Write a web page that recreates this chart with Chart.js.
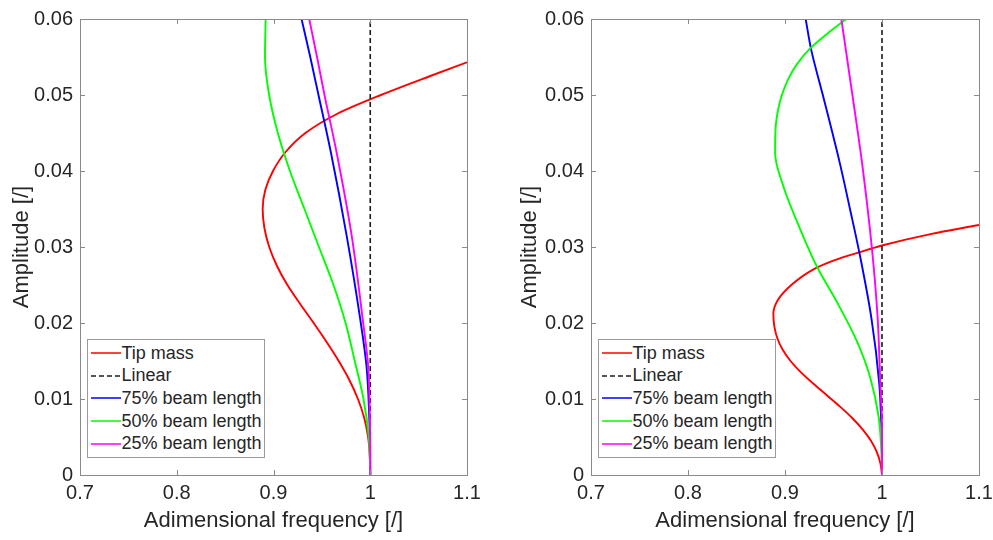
<!DOCTYPE html>
<html>
<head>
<meta charset="utf-8">
<title>Backbone curves</title>
<script src="https://cdn.jsdelivr.net/npm/chart.js@4.4.1/dist/chart.umd.min.js"></script>
<style>
  html, body { margin: 0; padding: 0; background: #fff; }
  body { width: 993px; height: 540px; position: relative; overflow: hidden; }
  .panel { position: absolute; top: 0; height: 540px; }
  #panel-left { left: 0; width: 490px; }
  #panel-right { left: 508px; width: 485px; }
  .legend {
    position: absolute;
    box-sizing: border-box;
    height: 119px;
    background: #fff;
    border: 1px solid #9a9a9a;
    padding: 2px 2px 2px 3px;
    font-family: "Liberation Sans", Arial, sans-serif;
    font-size: 18px;
    color: #262626;
  }
  .legend-row { display: flex; align-items: center; height: 22.6px; white-space: nowrap; }
  .legend-row svg { flex: none; margin-right: 1px; }
</style>
</head>
<body>
<div class="panel" id="panel-left">
  <canvas id="backbone-tip"></canvas>
  <div class="legend" id="backbone-tip-legend"></div>
</div>
<div class="panel" id="panel-right">
  <canvas id="backbone-beam"></canvas>
  <div class="legend" id="backbone-beam-legend"></div>
</div>
<script>
(function () {
  'use strict';

  // Axis ticks
  const freqTicks = [0.7, 0.8, 0.9, 1, 1.1];
  const freqTickLabels = ['0.7', '0.8', '0.9', '1', '1.1'];
  const ampTicks = [0, 0.01, 0.02, 0.03, 0.04, 0.05, 0.06];
  const ampTickLabels = ['0', '0.01', '0.02', '0.03', '0.04', '0.05', '0.06'];

  const seriesLabels = ['Tip mass', 'Linear', '75% beam length', '50% beam length', '25% beam length'];

  // Linear system: constant frequency
  const linearAmp = [0, 0.06];
  const linearFreq = [1, 1];

  // Left plot
  const tipAmpA = [0, 0.0025, 0.005, 0.0075, 0.01, 0.0125, 0.015, 0.0175, 0.02, 0.0225, 0.025, 0.0275, 0.03, 0.0325, 0.035, 0.0375, 0.04, 0.0425, 0.045, 0.0475, 0.05, 0.0525, 0.0543];
  const tipFreqA = [1.0, 0.9995, 0.9978, 0.9938, 0.9873, 0.9784, 0.9674, 0.9549, 0.9415, 0.9276, 0.9144, 0.9036, 0.8956, 0.8906, 0.8888, 0.8915, 0.8995, 0.9125, 0.933, 0.9655, 1.011, 1.062, 1.1];

  const beam75AmpA = [0, 0.004, 0.0076, 0.0141, 0.0207, 0.0315, 0.0424, 0.05, 0.055, 0.06];
  const beam75FreqA = [1.0, 0.9998, 0.999, 0.9963, 0.9894, 0.9756, 0.9594, 0.9465, 0.938, 0.929];

  const beam50AmpA = [0, 0.005, 0.01, 0.015, 0.02, 0.025, 0.03, 0.035, 0.04, 0.045, 0.05, 0.055, 0.06];
  const beam50FreqA = [1.0, 0.9985, 0.993, 0.984, 0.9745, 0.962, 0.947, 0.932, 0.917, 0.9045, 0.8955, 0.8912, 0.8919];

  const beam25AmpA = [0, 0.004, 0.0076, 0.0141, 0.0207, 0.0315, 0.0424, 0.05, 0.055, 0.06];
  const beam25FreqA = [1.0, 1.0, 0.9996, 0.998, 0.992, 0.9808, 0.9653, 0.9527, 0.945, 0.9369];

  // Right plot
  const tipAmpB = [0, 0.0015, 0.003, 0.0045, 0.006, 0.0075, 0.009, 0.0105, 0.012, 0.0135, 0.015, 0.0165, 0.018, 0.0195, 0.0212, 0.023, 0.025, 0.027, 0.0283, 0.0293, 0.0302, 0.0317, 0.0329];
  const tipFreqB = [1.0, 0.9984, 0.9947, 0.9886, 0.980, 0.9693, 0.9568, 0.9431, 0.9293, 0.9165, 0.9057, 0.8975, 0.8921, 0.8891, 0.888, 0.8925, 0.9065, 0.9285, 0.952, 0.9766, 1.0, 1.05, 1.1];

  const beam75AmpB = [0, 0.004, 0.0076, 0.012, 0.0207, 0.0293, 0.035, 0.0411, 0.05, 0.0559, 0.06];
  const beam75FreqB = [1.0, 0.9998, 0.999, 0.9972, 0.989, 0.9766, 0.967, 0.9564, 0.939, 0.9271, 0.9213];

  const beam50AmpB = [0, 0.003, 0.0076, 0.0128, 0.0176, 0.0228, 0.0273, 0.0324, 0.038, 0.0424, 0.046, 0.048, 0.05, 0.052, 0.054, 0.056, 0.058, 0.06];
  const beam50FreqB = [1.0, 0.9994, 0.9966, 0.9879, 0.9741, 0.9534, 0.9334, 0.9155, 0.8983, 0.8898, 0.8905, 0.8928, 0.8968, 0.903, 0.912, 0.925, 0.943, 0.9632];

  const beam25AmpB = [0, 0.004, 0.0076, 0.012, 0.0207, 0.0297, 0.0411, 0.05, 0.06];
  const beam25FreqB = [1.0, 1.0, 0.9998, 0.9983, 0.9955, 0.9897, 0.9794, 0.9695, 0.9581];

  const seriesStyles = [
    { color: '#ff0000', dash: [] },
    { color: '#1c1c1c', dash: [5, 3] },
    { color: '#0000ff', dash: [] },
    { color: '#00ff00', dash: [] },
    { color: '#ff00ff', dash: [] }
  ];

  const textColor = '#262626';
  const boxColor = '#8a8a8a';
  const fontFamily = '"Liberation Sans", Arial, sans-serif';

  Chart.defaults.font.family = fontFamily;

  const toPoints = (freq, amp) => amp.map((a, i) => ({ x: freq[i], y: a }));

  function makeDatasets(curves) {
    return curves.map((points, i) => ({
      label: seriesLabels[i],
      data: points,
      borderColor: seriesStyles[i].color,
      backgroundColor: seriesStyles[i].color,
      borderDash: seriesStyles[i].dash,
      borderWidth: i === 1 ? 1.6 : 1.9,
      pointRadius: 0,
      fill: false,
      // frequency is a smooth function of amplitude, so interpolate along y
      cubicInterpolationMode: 'monotone',
      clip: 0,
      // later series are drawn on top
      order: seriesLabels.length - i
    }));
  }

  // box around the plot area with ticks pointing inwards
  const boxAxes = {
    id: 'boxAxes',
    afterDraw(chart) {
      const { ctx, chartArea: a, scales: { x, y } } = chart;
      const len = 5;
      ctx.save();
      ctx.strokeStyle = boxColor;
      ctx.lineWidth = 1;
      ctx.beginPath();
      freqTicks.forEach((v) => {
        const px = Math.round(x.getPixelForValue(v)) + 0.5;
        ctx.moveTo(px, a.bottom); ctx.lineTo(px, a.bottom - len);
        ctx.moveTo(px, a.top); ctx.lineTo(px, a.top + len);
      });
      ampTicks.forEach((v) => {
        const py = Math.round(y.getPixelForValue(v)) + 0.5;
        ctx.moveTo(a.left, py); ctx.lineTo(a.left + len, py);
        ctx.moveTo(a.right, py); ctx.lineTo(a.right - len, py);
      });
      ctx.stroke();
      ctx.strokeRect(Math.round(a.left) + 0.5, Math.round(a.top) + 0.5,
        Math.round(a.right - a.left), Math.round(a.bottom - a.top));
      ctx.restore();
    }
  };

  function makeOptions(yAxisWidth, rightPad) {
    return {
      indexAxis: 'y',
      responsive: true,
      maintainAspectRatio: false,
      animation: false,
      events: [],
      layout: { padding: { top: 15, right: rightPad, bottom: 0, left: 0 } },
      scales: {
        x: {
          type: 'linear',
          position: 'bottom',
          min: 0.7,
          max: 1.1,
          afterBuildTicks: (scale) => { scale.ticks = freqTicks.map((v) => ({ value: v })); },
          afterFit: (scale) => {
            scale.height = 65;
            // end labels may hang over the plot box
            scale.paddingLeft = 0;
            scale.paddingRight = 0;
          },
          grid: { display: false, drawTicks: false },
          border: { display: false },
          ticks: {
            autoSkip: false,
            maxRotation: 0,
            padding: 6,
            color: textColor,
            font: { size: 20 },
            callback: (value, index) => freqTickLabels[index]
          },
          title: {
            display: true,
            text: 'Adimensional frequency [/]',
            color: textColor,
            font: { size: 22 },
            padding: { top: 0, bottom: 6 }
          }
        },
        y: {
          type: 'linear',
          position: 'left',
          min: 0,
          max: 0.06,
          afterBuildTicks: (scale) => { scale.ticks = ampTicks.map((v) => ({ value: v })); },
          afterFit: (scale) => { scale.width = yAxisWidth; },
          grid: { display: false, drawTicks: false },
          border: { display: false },
          ticks: {
            autoSkip: false,
            padding: 7,
            color: textColor,
            font: { size: 20 },
            callback: (value, index) => ampTickLabels[index]
          },
          title: {
            display: true,
            text: 'Amplitude [/]',
            color: textColor,
            font: { size: 22 },
            padding: { top: 9, bottom: 0 }
          }
        }
      },
      plugins: {
        legend: { display: false },
        tooltip: { enabled: false }
      }
    };
  }

  function buildLegend(chart) {
    const legendElement = document.getElementById(`${chart.canvas.id}-legend`);
    if (!legendElement) return;
    chart.data.datasets.forEach((dataset) => {
      const row = document.createElement('div');
      row.className = 'legend-row';
      row.innerHTML = `
        <svg width="30" height="6"><line x1="0" y1="3" x2="30" y2="3"
          stroke="${dataset.borderColor}" stroke-width="1.5"
          stroke-dasharray="${dataset.borderDash.length ? dataset.borderDash.join(' ') : 'none'}"/></svg>
        <span>${dataset.label}</span>`;
      legendElement.appendChild(row);
    });
    const area = chart.chartArea;
    legendElement.style.left = `${area.left + 6.5}px`;
    legendElement.style.top = `${area.bottom - 17 - legendElement.offsetHeight}px`;
  }

  // Chart 1
  const chartTip = new Chart(document.getElementById('backbone-tip'), {
    type: 'line',
    data: {
      datasets: makeDatasets([
        toPoints(tipFreqA, tipAmpA),
        toPoints(linearFreq, linearAmp),
        toPoints(beam75FreqA, beam75AmpA),
        toPoints(beam50FreqA, beam50AmpA),
        toPoints(beam25FreqA, beam25AmpA)
      ])
    },
    options: makeOptions(80, 23),
    plugins: [boxAxes]
  });
  buildLegend(chartTip);

  // Chart 2
  const chartBeam = new Chart(document.getElementById('backbone-beam'), {
    type: 'line',
    data: {
      datasets: makeDatasets([
        toPoints(tipFreqB, tipAmpB),
        toPoints(linearFreq, linearAmp),
        toPoints(beam75FreqB, beam75AmpB),
        toPoints(beam50FreqB, beam50AmpB),
        toPoints(beam25FreqB, beam25AmpB)
      ])
    },
    options: makeOptions(83, 14),
    plugins: [boxAxes]
  });
  buildLegend(chartBeam);
})();
</script>
</body>
</html>
